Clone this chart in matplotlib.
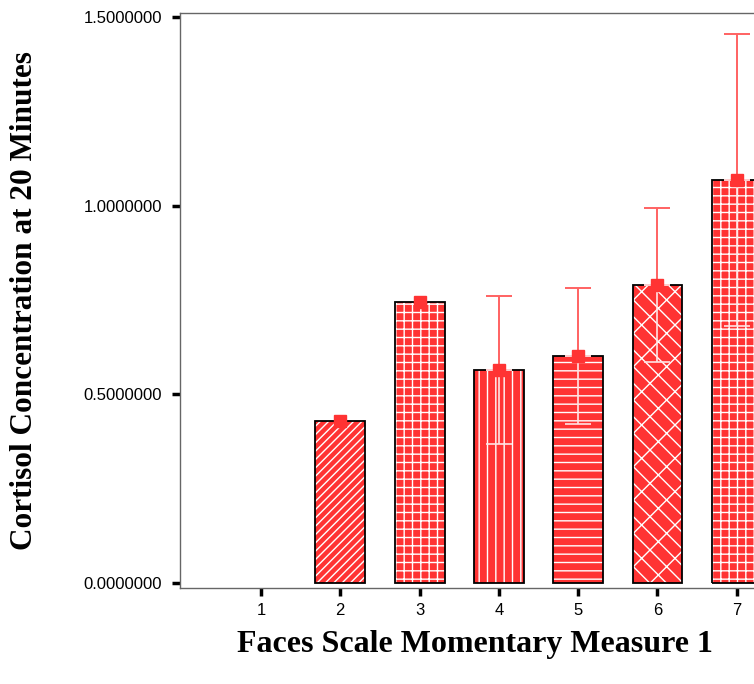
import matplotlib
matplotlib.use("Agg")
import matplotlib.pyplot as plt
import numpy as np

categories = [1, 2, 3, 4, 5, 6, 7]
means = [np.nan, 0.429, 0.745, 0.565, 0.602, 0.790, 1.068]
err = [np.nan, 0.0, 0.0, 0.196, 0.180, 0.204, 0.387]
hatches = [None, '////', '++', '||', '--', '\\\\/', '++']
yticks = [0.0, 0.5, 1.0, 1.5]

plt.rcParams['hatch.color'] = 'white'
plt.rcParams['hatch.linewidth'] = 1.0

fig = plt.figure(figsize=(7.54, 6.84), dpi=100)
ax = fig.add_axes([180/754, 96/684, 605/754, 575/684])

red = '#ff3333'
ebc = '#ff6262'
width = 0.63
x = np.array(categories, dtype=float)
m = np.array(means)
e = np.array(err)

for xi, mi, ei, h in zip(x, m, e, hatches):
    if np.isnan(mi):
        continue
    ax.bar(xi, mi, width=width, color=red, hatch=h, edgecolor='white', linewidth=0, zorder=2)
    ax.bar(xi, mi, width=width, facecolor='none', edgecolor='black', linewidth=1.3, zorder=3)
    if ei > 0:
        ax.errorbar([xi], [mi], yerr=[[0], [ei]], fmt='none', ecolor=ebc, elinewidth=1.4,
                    capsize=9.5, capthick=1.4, zorder=4)
        ax.errorbar([xi], [mi], yerr=[[ei], [0]], fmt='none', ecolor='#ffe4e4', elinewidth=1.2,
                    capsize=9.5, capthick=1.2, zorder=4)
    ax.plot([xi], [mi], marker='s', color=red, markersize=9, zorder=5, linestyle='none')

ax.set_xlim(-0.021, 7.608)
ax.set_ylim(-0.0133, 1.5107)
ax.set_xticks(categories)
ax.set_xticklabels([str(c) for c in categories])
ax.set_yticks(yticks)
ax.set_yticklabels(['%.7f' % v for v in yticks])

for s in ['left', 'bottom', 'top', 'right']:
    ax.spines[s].set_color('#666666')
    ax.spines[s].set_linewidth(1.0)

ax.tick_params(axis='both', which='major', length=6, width=2.5, color='black',
               labelsize=12, pad=5)
ax.tick_params(axis='y', pad=7)
for lab in ax.get_xticklabels() + ax.get_yticklabels():
    lab.set_family('Liberation Sans')

ax.set_ylabel('Cortisol Concentration at 20 Minutes', family='Liberation Serif',
              fontweight='bold', fontsize=22.5)
ax.set_xlabel('Faces Scale Momentary Measure 1', family='Liberation Serif',
              fontweight='bold', fontsize=23)
ax.xaxis.set_label_coords((475-180)/605, -(630-588)/575)
ax.yaxis.set_label_coords(-(180-39)/605, (588-301)/575)

fig.savefig('out.png', dpi=100)
